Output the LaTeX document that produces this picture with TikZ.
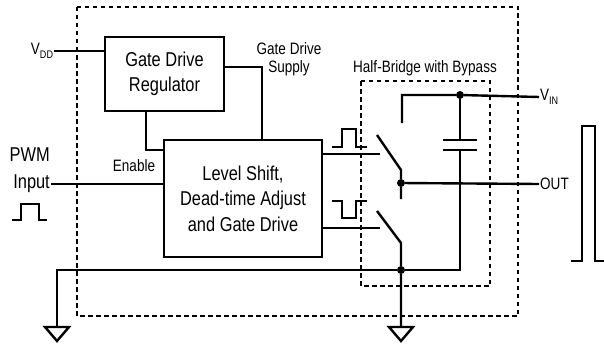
\documentclass[tikz,border=0pt]{standalone}
\usepackage{fontspec}
\setmainfont{Liberation Sans}[FakeStretch=0.82]
\newcommand{\bigtxt}{\fontsize{20}{25.5}\selectfont}
\newcommand{\smalltxt}{\fontsize{16.5}{18.5}\selectfont}
\newcommand{\subtxt}[1]{\raisebox{-0.45ex}{\fontsize{11}{11}\selectfont #1}}
\begin{document}
\begin{tikzpicture}[x=1pt, y=-1pt,
    wire/.style={line width=2.4pt},
    blockbox/.style={rectangle, draw, line width=2.4pt, inner sep=0pt, align=center, font=\bigtxt},
    dot/.style={circle, fill=black, inner sep=0pt, minimum size=8pt},
    dashbox/.style={line width=1.1pt, dash pattern=on 4.5pt off 3.5pt},
    lbl/.style={inner sep=1pt, font=\smalltxt, align=center}]

    \useasboundingbox (0,0) rectangle (604,345);

    % Dashed outlines
    \draw[dashbox] (77,7) rectangle (518,316);
    \draw[dashbox] (361,81) rectangle (490,286);

    % Blocks
    \node[blockbox, minimum width=119pt, minimum height=74pt] (reg) at (164.5,74) {Gate Drive\\Regulator};
    \node[blockbox, minimum width=158pt, minimum height=117pt] (lvl) at (243,198.5) {Level Shift,\\Dead-time Adjust\\and Gate Drive};

    % Labels
    \node[lbl] (vdd) at (42,51) {V\subtxt{DD}};
    \node[lbl] (supply) at (289,59) {Gate Drive\\Supply};
    \node[lbl] (enable) at (134,166) {Enable};
    \node[inner sep=1pt, font=\bigtxt, anchor=east] (pwm) at (51,155) {PWM};
    \node[inner sep=1pt, font=\bigtxt, anchor=east] (input) at (51,184) {Input};
    \node[lbl] (hb) at (425,68) {Half-Bridge with Bypass};
    \node[lbl, anchor=west] (vin) at (539,97) {V\subtxt{IN}};
    \node[lbl, anchor=west] (out) at (539,184) {OUT};

    % Junction dots
    \node[dot] (top) at (460,95) {};
    \node[dot] (mid) at (401,183) {};
    \node[dot] (bot) at (401,270) {};

    % Control wires
    \draw[wire] (vdd.east) -- (vdd.east -| reg.west);
    \draw[wire] (146,111) |- (lvl.west |- 0,150);
    \draw[wire] (reg.east |- 0,67) -| (lvl.north -| 262,0);
    \draw[wire] (input.east) -- (input.east -| lvl.west);
    \draw[wire] (lvl.east |- 0,154) -- (380,154);
    \draw[wire] (lvl.east |- 0,228) -- (380,228);

    % Pulses
    \draw[wire] (12,220) -- (21,220) -- (21,204) -- (39,204) -- (39,220) -- (47,220);
    \draw[wire] (332,147) -- (342,147) -- (342,129) -- (356,129) -- (356,147) -- (367,147);
    \draw[wire] (332,201) -- (342,201) -- (342,218) -- (356,218) -- (356,201) -- (367,201);
    \draw[wire] (571,261) -- (582,261) -- (582,126) -- (595,126) -- (595,261) -- (606,261);

    % Switches
    \draw[wire] (402,123) |- (top) -- (vin.west);
    \draw[wire] (377,135) -- (401,170) -- (mid) -- (401,199);
    \draw[wire] (377,211) -- (401,243) -- (bot) -- (401,327);
    \draw[wire] (mid) -- (out.west);

    % Bypass capacitor
    \draw[wire] (top) -- (460,140);
    \draw[wire] (443,140) -- (477,140);
    \draw[wire] (443,150) -- (477,150);
    \draw[wire] (460,150) |- (bot) -- (57,270) -- (57,327);

    % Grounds
    \foreach \g in {57,401} {
        \draw[wire, line join=miter] (\g-12,327) -- (\g+12,327) -- (\g,341) -- cycle;
    }
\end{tikzpicture}
\end{document}
